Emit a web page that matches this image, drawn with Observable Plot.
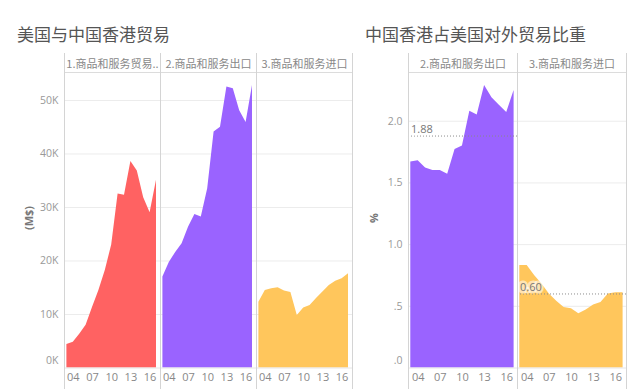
<!DOCTYPE html>
<html><head><meta charset="utf-8">
<script src="https://cdn.jsdelivr.net/npm/d3@7"></script>
<script src="https://cdn.jsdelivr.net/npm/@observablehq/plot@0.6"></script>
<style>
body{margin:0;background:#fff;}
#wrap{position:relative;width:641px;height:389px;overflow:hidden;font-family:"Noto Sans CJK SC",sans-serif;}
.title{position:absolute;top:24px;font-size:17px;line-height:20px;color:#555;white-space:nowrap;}
.ylab{position:absolute;font-family:"Open Sans",sans-serif;font-size:11px;font-weight:bold;color:#777;transform:translate(-50%,-50%) rotate(-90deg);white-space:nowrap;}
#left,#right{position:absolute;top:0;}
#left{left:0}
#right{left:360px}
</style></head><body>
<div id="wrap">
 <div class="title" style="left:17px">美国与中国香港贸易</div>
 <div class="title" style="left:365px">中国香港占美国对外贸易比重</div>
 <div id="left"></div><div id="right"></div>
 <div class="ylab" style="left:28px;top:218px">(M$)</div>
 <div class="ylab" style="left:373px;top:218px">%</div>
</div>
<script>
// ---- data ----
const years = [2003,2004,2005,2006,2007,2008,2009,2010,2011,2012,2013,2014,2015,2016,2017];
const tradePanels = ["1.商品和服务贸易..", "2.商品和服务出口", "3.商品和服务进口"];
const sharePanels = ["2.商品和服务出口", "3.商品和服务进口"];
// US$ millions
const balance  = [4400,4800,6300,8000,11300,14500,18200,23000,32500,32300,38600,36800,31800,29000,35100];
const exportsM = [17000,19700,21600,23200,26300,28700,28200,33500,44100,45000,52500,52200,48100,45900,52800];
const importsM = [12300,14500,14800,15000,14400,14100,9800,11200,11700,13000,14200,15400,16200,16700,17600];
// share of US trade, %
const shareExports = [1.67,1.68,1.62,1.60,1.60,1.57,1.77,1.80,2.08,2.05,2.29,2.19,2.13,2.07,2.25];
const shareImports = [0.83,0.83,0.75,0.68,0.60,0.54,0.49,0.48,0.44,0.47,0.51,0.53,0.60,0.61,0.61];
const shareRefValues = [1.88, 0.60];
const shareRefLabels = ["1.88", "0.60"];
// ticks
const xTicks = [2004,2007,2010,2013,2016];
const xTickLabels = ["04","07","10","13","16"];
const leftTicks = [0,10000,20000,30000,40000,50000];
const leftTickLabels = ["0K","10K","20K","30K","40K","50K"];
const rightTicks = [0,0.5,1,1.5,2];
const rightTickLabels = [".0",".5","1.0","1.5","2.0"];
const tradeColors = ["#ff6262","#9a63ff","#ffc65c"];
const shareColors = ["#9a63ff","#ffc65c"];

// ---- tables ----
const tradeSeries = [balance, exportsM, importsM];
const tradeData = tradePanels.flatMap((p, k) => years.map((y, i) => ({panel: p, year: y, value: tradeSeries[k][i]})));
const shareSeries = [shareExports, shareImports];
const shareData = sharePanels.flatMap((p, k) => years.map((y, i) => ({panel: p, year: y, value: shareSeries[k][i]})));
const refData = sharePanels.map((p, k) => ({panel: p, value: shareRefValues[k], label: shareRefLabels[k]}));

const lineColor = "#d4d4d4";
const tickFont = "'Open Sans', sans-serif";
const cjkFont = "'Noto Sans CJK SC', sans-serif";

function commonMarks(panels, yTicks, yLabels) {
  return [
    Plot.gridY(yTicks.slice(1), {stroke: "#ececec", strokeOpacity: 1}),
  ];
}
function frameMarks() {
  return [
    Plot.frame({anchor: "top", stroke: "#dcdcdc", strokeOpacity: 1}),
    Plot.frame({anchor: "bottom", stroke: "#e6e6e6", strokeOpacity: 1}),
    Plot.frame({anchor: "left", stroke: lineColor, strokeOpacity: 1, insetTop: -19, insetBottom: -22}),
    Plot.frame({anchor: "right", facetAnchor: "right", stroke: lineColor, strokeOpacity: 1, insetTop: -19, insetBottom: -22})
  ];
}
function axisMarks(yTicks, yLabels) {
  return [
    Plot.axisFx({anchor: "top", tickSize: 0, tickPadding: 5, label: null, fontSize: 11, fill: "#888", fontFamily: cjkFont}),
    Plot.axisY(yTicks.slice(1), {tickSize: 0, tickPadding: 6, label: null, fill: "#999", fontSize: 10.5,
      tickFormat: d => yLabels[yTicks.indexOf(d)]}),
    Plot.axisY(yTicks.slice(0, 1), {tickSize: 0, tickPadding: 6, label: null, fill: "#999", fontSize: 10.5, dy: -7,
      tickFormat: d => yLabels[yTicks.indexOf(d)]}),
    Plot.axisX(xTicks, {tickSize: 0, tickPadding: 5, label: null, fill: "#888", fontSize: 11,
      tickFormat: d => xTickLabels[xTicks.indexOf(d)]})
  ];
}

const left = Plot.plot({
  width: 360, height: 389,
  marginLeft: 63.5, marginRight: 7, marginTop: 72, marginBottom: 21.5,
  style: {fontFamily: tickFont, background: "transparent", overflow: "visible"},
  fx: {domain: tradePanels, padding: 0, label: null},
  x: {domain: [2003, 2017], insetLeft: 2.4, insetRight: 4},
  y: {domain: [0, 55230]},
  color: {domain: tradePanels, range: tradeColors},
  marks: [
    ...commonMarks(tradePanels, leftTicks, leftTickLabels),
    Plot.areaY(tradeData, {fx: "panel", x: "year", y: "value", fill: "panel"}),
    ...frameMarks(),
    ...axisMarks(leftTicks, leftTickLabels)
  ]
});
document.getElementById("left").appendChild(left);

const right = Plot.plot({
  width: 281, height: 389,
  marginLeft: 47.7, marginRight: 15, marginTop: 72, marginBottom: 21.5,
  style: {fontFamily: tickFont, background: "transparent", overflow: "visible"},
  fx: {domain: sharePanels, padding: 0, label: null},
  x: {domain: [2003, 2017], insetLeft: 2.3, insetRight: 3.4},
  y: {domain: [0, 2.395]},
  color: {domain: sharePanels, range: shareColors},
  marks: [
    ...commonMarks(sharePanels, rightTicks, rightTickLabels),
    Plot.areaY(shareData, {fx: "panel", x: "year", y: "value", fill: "panel"}),
    Plot.ruleY(refData, {fx: "panel", y: "value", stroke: "#8a8a8a", strokeDasharray: "1,2"}),
    Plot.text(refData, {fx: "panel", y: "value", text: "label", frameAnchor: "left", textAnchor: "start",
      dx: 2.5, dy: -7, fill: "#777", fontSize: 11, stroke: "#ffffff", strokeOpacity: 0.55, strokeWidth: 5, strokeLinejoin: "miter"}),
    ...frameMarks(),
    ...axisMarks(rightTicks, rightTickLabels)
  ]
});
document.getElementById("right").appendChild(right);
</script>
</body></html>
